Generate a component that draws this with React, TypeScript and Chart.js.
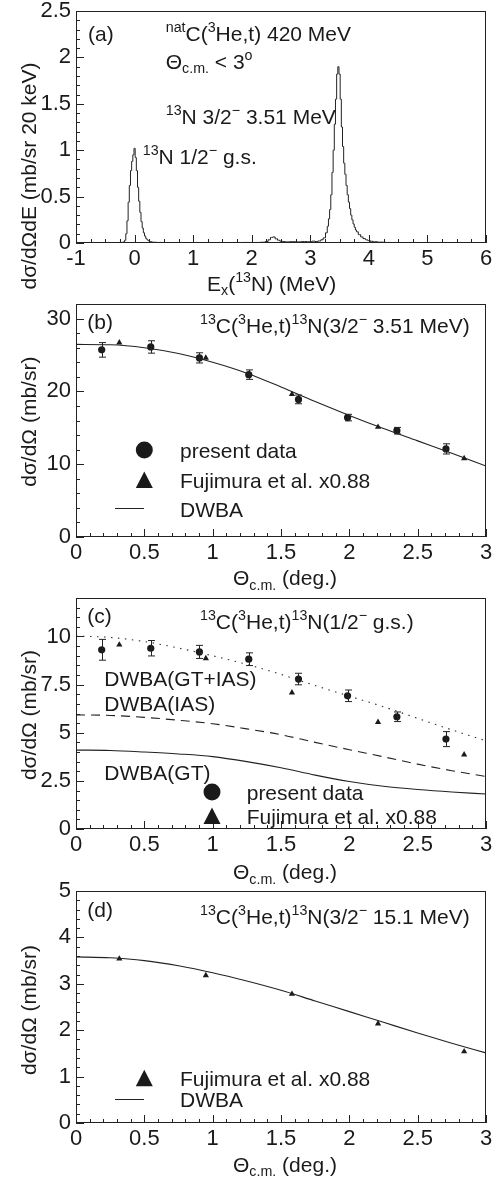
import React, { useEffect, useRef } from "react";
import { Chart, registerables } from "chart.js";
Chart.register(...registerables);

const FONT = "'Liberation Sans', Arial, Helvetica, sans-serif";
const TXT = "#1a1a1a";
const LINE = "#222";

// ---------- Panel (a): spectrum ----------
const specE = [
  -1.0, -0.9, -0.8, -0.7, -0.6, -0.5, -0.45, -0.4, -0.35, -0.3, -0.26, -0.22, -0.2,
  -0.18, -0.16, -0.14, -0.12, -0.1, -0.08, -0.06, -0.04, -0.02, 0.0, 0.02, 0.04, 0.06,
  0.08, 0.1, 0.12, 0.14, 0.16, 0.18, 0.2, 0.22, 0.24, 0.26, 0.28, 0.3, 0.34, 0.4, 0.5,
  0.6, 0.7, 0.8, 0.9, 1.0, 1.1, 1.2, 1.3, 1.4, 1.5, 1.6, 1.7, 1.8, 1.9, 2.0, 2.1, 2.2,
  2.26, 2.3, 2.34, 2.38, 2.42, 2.46, 2.5, 2.55, 2.6, 2.7, 2.8, 2.9, 3.0, 3.06, 3.1, 3.16,
  3.2, 3.24, 3.28, 3.3, 3.32, 3.34, 3.36, 3.38, 3.4, 3.42, 3.44, 3.46, 3.48, 3.5, 3.52,
  3.54, 3.56, 3.58, 3.6, 3.62, 3.64, 3.66, 3.68, 3.7, 3.72, 3.74, 3.76, 3.78, 3.8, 3.84,
  3.88, 3.92, 3.96, 4.0, 4.05, 4.1, 4.2, 4.3, 4.4, 4.6, 4.8, 5.0, 5.2, 5.4, 5.6, 5.8, 6.0,
];
const specY = [
  0, 0, 0.002, 0, 0.003, 0.004, 0.002, 0.005, 0.002, 0.004, 0.006, 0.005, 0.008,
  0.012, 0.03, 0.1, 0.24, 0.44, 0.62, 0.78, 0.88, 0.95, 1.02, 0.92, 0.78, 0.6,
  0.45, 0.33, 0.23, 0.16, 0.11, 0.075, 0.05, 0.035, 0.026, 0.018, 0.014, 0.01, 0.008, 0.006, 0.005,
  0.004, 0.005, 0.004, 0.003, 0.004, 0.005, 0.004, 0.003, 0.004, 0.005, 0.004, 0.005, 0.004, 0.006, 0.005, 0.006, 0.008,
  0.015, 0.035, 0.06, 0.065, 0.045, 0.03, 0.02, 0.015, 0.012, 0.014, 0.012, 0.015, 0.013, 0.02, 0.016, 0.022,
  0.035, 0.055, 0.11, 0.18, 0.26, 0.36, 0.52, 0.76, 1.0, 1.28, 1.55, 1.82, 1.9, 1.82, 1.55,
  1.25, 1.04, 0.86, 0.74, 0.62, 0.52, 0.44, 0.37, 0.3, 0.25, 0.205, 0.17, 0.14, 0.12, 0.09,
  0.065, 0.048, 0.035, 0.026, 0.018, 0.013, 0.009, 0.006, 0.005, 0.004, 0.005, 0.004, 0.004, 0.003, 0.004, 0.003, 0.003,
];
const aXTicks = [-1, 0, 1, 2, 3, 4, 5, 6];
const aYTicks = [0, 0.5, 1, 1.5, 2, 2.5];

// ---------- angular distributions ----------
const angTicks = [0, 0.5, 1, 1.5, 2, 2.5, 3];
const thetaPresent = [0.188, 0.547, 0.903, 1.264, 1.628, 1.987, 2.348, 2.707];
const thetaFujimura = [0.317, 0.95, 1.58, 2.21, 2.84];
const thetaDwba = [0, 0.25, 0.5, 0.75, 1.0, 1.25, 1.5, 1.75, 2.0, 2.25, 2.5, 2.75, 3.0];

// (b) 3/2- 3.51 MeV
const bYTicks = [0, 10, 20, 30];
const bPresent = [25.7, 26.1, 24.6, 22.3, 18.9, 16.4, 14.6, 12.1];
const bPresentErr = [1.0, 0.85, 0.7, 0.65, 0.6, 0.45, 0.45, 0.7];
const bFujimura = [26.7, 24.6, 19.6, 15.1, 10.8];
const bDwba = [26.45, 26.4, 26.0, 25.2, 24.0, 22.5, 20.6, 18.6, 16.7, 14.9, 13.2, 11.5, 9.75];

// (c) 1/2- g.s.
const cYTicks = [0, 2.5, 5, 7.5, 10];
const cPresent = [9.31, 9.39, 9.2, 8.82, 7.79, 6.92, 5.83, 4.67];
const cPresentErr = [0.54, 0.4, 0.34, 0.33, 0.3, 0.3, 0.25, 0.39];
const cFujimura = [9.57, 8.86, 7.08, 5.55, 3.86];
const cDwbaSum = [10.03, 9.95, 9.74, 9.4, 9.0, 8.55, 8.03, 7.45, 6.9, 6.35, 5.75, 5.15, 4.58];
const cDwbaIAS = [5.93, 5.9, 5.8, 5.65, 5.47, 5.2, 4.9, 4.5, 4.12, 3.75, 3.37, 3.03, 2.73];
const cDwbaGT = [4.1, 4.08, 4.0, 3.9, 3.76, 3.5, 3.18, 2.8, 2.47, 2.22, 2.05, 1.92, 1.82];

// (d) 3/2- 15.1 MeV
const dYTicks = [0, 1, 2, 3, 4, 5];
const dFujimura = [3.54, 3.18, 2.78, 2.14, 1.54];
const dDwba = [3.58, 3.56, 3.5, 3.39, 3.24, 3.06, 2.86, 2.63, 2.4, 2.17, 1.94, 1.72, 1.51];

// ---------- helpers ----------
type Seg = { t: string; s?: "sup" | "sub" };
const SUPF = 0.68;

function setFont(ctx: CanvasRenderingContext2D, size: number) {
  ctx.font = `${size}px ${FONT}`;
}
function richWidth(ctx: CanvasRenderingContext2D, segs: Seg[], size: number) {
  let w = 0;
  for (const g of segs) {
    setFont(ctx, g.s ? size * SUPF : size);
    w += ctx.measureText(g.t).width;
  }
  return w;
}
function drawRich(
  ctx: CanvasRenderingContext2D,
  segs: Seg[],
  x: number,
  yc: number,
  size: number,
  align: "left" | "center" = "left"
) {
  const base = yc + size * 0.36;
  let cx = align === "center" ? x - richWidth(ctx, segs, size) / 2 : x;
  ctx.textBaseline = "alphabetic";
  ctx.textAlign = "left";
  ctx.fillStyle = TXT;
  for (const g of segs) {
    const fs = g.s ? size * SUPF : size;
    setFont(ctx, fs);
    const y = g.s === "sup" ? base - size * 0.42 : g.s === "sub" ? base + size * 0.22 : base;
    ctx.fillText(g.t, cx, y);
    cx += ctx.measureText(g.t).width;
  }
}
const pts = (xs: number[], ys: number[]) => xs.map((x, i) => ({ x, y: ys[i] }));

function legCircle(ctx: CanvasRenderingContext2D, x: number, y: number, r: number) {
  ctx.beginPath();
  ctx.arc(x, y, r, 0, Math.PI * 2);
  ctx.fillStyle = TXT;
  ctx.fill();
}
function legTriangle(ctx: CanvasRenderingContext2D, x: number, y: number) {
  ctx.beginPath();
  ctx.moveTo(x, y - 8.5);
  ctx.lineTo(x - 8.5, y + 8);
  ctx.lineTo(x + 8.5, y + 8);
  ctx.closePath();
  ctx.fillStyle = TXT;
  ctx.fill();
}
function legLine(ctx: CanvasRenderingContext2D, x1: number, x2: number, y: number) {
  ctx.beginPath();
  ctx.moveTo(x1, y);
  ctx.lineTo(x2, y);
  ctx.strokeStyle = LINE;
  ctx.lineWidth = 1;
  ctx.stroke();
}

const TH: Seg[] = [{ t: "Θ" }, { t: "c.m.", s: "sub" }, { t: " (deg.)" }];
const YT: Seg[] = [{ t: "dσ/dΩ (mb/sr)" }];

interface PanelCfg {
  canvasTop: number;
  H: number;
  top: number;
  bottom: number;
  xMin: number;
  xMax: number;
  xTicks: number[];
  xMinor: number;
  yMin: number;
  yMax: number;
  yTicks: number[];
  yMinor: number;
  datasets: any[];
  yTitle: Seg[];
  yTitleY: number;
  xTitle: Seg[];
  xTitleX: number;
  xTitleY: number;
  extras: (ctx: CanvasRenderingContext2D) => void;
}

const presentDs = (ys: number[], errs: number[]) => ({
  label: "present data",
  data: pts(thetaPresent, ys),
  errs,
  pointStyle: "circle",
  pointRadius: 3.6,
  backgroundColor: TXT,
  borderColor: TXT,
  borderWidth: 0,
  showLine: false,
});
const fujiDs = (ys: number[]) => ({
  label: "Fujimura et al. x0.88",
  data: pts(thetaFujimura, ys),
  pointStyle: "triangle",
  pointRadius: 3.6,
  backgroundColor: TXT,
  borderColor: TXT,
  borderWidth: 0,
  showLine: false,
});
const curveDs = (ys: number[], dash: number[] = [], color = LINE) => ({
  label: "DWBA",
  data: pts(thetaDwba, ys),
  showLine: true,
  pointRadius: 0,
  borderColor: color,
  borderWidth: 1.1,
  borderDash: dash,
  tension: 0.4,
  cubicInterpolationMode: "monotone",
  fill: false,
});

const panels: PanelCfg[] = [
  {
    canvasTop: 0,
    H: 300,
    top: 11,
    bottom: 243,
    xMin: -1,
    xMax: 6,
    xTicks: aXTicks,
    xMinor: 0.25,
    yMin: 0,
    yMax: 2.5,
    yTicks: aYTicks,
    yMinor: 0.1,
    datasets: [
      {
        label: "spectrum",
        data: pts(specE, specY),
        showLine: true,
        stepped: "middle",
        pointRadius: 0,
        borderColor: LINE,
        borderWidth: 1,
        fill: false,
      },
    ],
    yTitle: [{ t: "dσ/dΩdE (mb/sr 20 keV)" }],
    yTitleY: 176,
    xTitle: [{ t: "E" }, { t: "x", s: "sub" }, { t: "(" }, { t: "13", s: "sup" }, { t: "N) (MeV)" }],
    xTitleX: 207,
    xTitleY: 283,
    extras: (ctx) => {
      drawRich(ctx, [{ t: "(a)" }], 88, 33, 21);
      drawRich(ctx, [{ t: "nat", s: "sup" }, { t: "C(" }, { t: "3", s: "sup" }, { t: "He,t) 420 MeV" }], 165.7, 33, 21);
      drawRich(ctx, [{ t: "Θ" }, { t: "c.m.", s: "sub" }, { t: " < 3" }, { t: "o", s: "sup" }], 165.7, 61, 21);
      drawRich(ctx, [{ t: "13", s: "sup" }, { t: "N 3/2" }, { t: "−", s: "sup" }, { t: " 3.51 MeV" }], 165.7, 116, 21);
      drawRich(ctx, [{ t: "13", s: "sup" }, { t: "N 1/2" }, { t: "−", s: "sup" }, { t: " g.s." }], 142.7, 156, 21);
    },
  },
  {
    canvasTop: 295,
    H: 300,
    top: 9,
    bottom: 242,
    xMin: 0,
    xMax: 3,
    xTicks: angTicks,
    xMinor: 0.1,
    yMin: 0,
    yMax: 32,
    yTicks: bYTicks,
    yMinor: 2,
    datasets: [curveDs(bDwba), fujiDs(bFujimura), presentDs(bPresent, bPresentErr)],
    yTitle: YT,
    yTitleY: 421.7,
    xTitle: TH,
    xTitleX: 233,
    xTitleY: 577.7,
    extras: (ctx) => {
      drawRich(ctx, [{ t: "(b)" }], 87.3, 321.7, 21);
      drawRich(
        ctx,
        [{ t: "13", s: "sup" }, { t: "C(" }, { t: "3", s: "sup" }, { t: "He,t)" }, { t: "13", s: "sup" }, { t: "N(3/2" }, { t: "−", s: "sup" }, { t: " 3.51 MeV)" }],
        200, 325, 21
      );
      legCircle(ctx, 144.3, 450, 8.5);
      drawRich(ctx, [{ t: "present data" }], 180, 450, 21);
      legTriangle(ctx, 144.3, 480);
      drawRich(ctx, [{ t: "Fujimura et al. x0.88" }], 180, 480, 21);
      legLine(ctx, 115, 144, 508.5);
      drawRich(ctx, [{ t: "DWBA" }], 180, 509, 21);
    },
  },
  {
    canvasTop: 585,
    H: 300,
    top: 13,
    bottom: 244,
    xMin: 0,
    xMax: 3,
    xTicks: angTicks,
    xMinor: 0.1,
    yMin: 0,
    yMax: 12,
    yTicks: cYTicks,
    yMinor: 0.5,
    datasets: [
      curveDs(cDwbaSum, [1.5, 5.5], "#333"),
      curveDs(cDwbaIAS, [9, 6]),
      curveDs(cDwbaGT),
      fujiDs(cFujimura),
      presentDs(cPresent, cPresentErr),
    ],
    yTitle: YT,
    yTitleY: 715,
    xTitle: TH,
    xTitleX: 233,
    xTitleY: 871.7,
    extras: (ctx) => {
      drawRich(ctx, [{ t: "(c)" }], 87.3, 615, 21);
      drawRich(
        ctx,
        [{ t: "13", s: "sup" }, { t: "C(" }, { t: "3", s: "sup" }, { t: "He,t)" }, { t: "13", s: "sup" }, { t: "N(1/2" }, { t: "−", s: "sup" }, { t: " g.s.)" }],
        200, 621.7, 21
      );
      drawRich(ctx, [{ t: "DWBA(GT+IAS)" }], 104.3, 678.3, 21);
      drawRich(ctx, [{ t: "DWBA(IAS)" }], 104.3, 703.3, 21);
      drawRich(ctx, [{ t: "DWBA(GT)" }], 104.3, 772.7, 21);
      legCircle(ctx, 212, 792, 8.5);
      drawRich(ctx, [{ t: "present data" }], 246.7, 792, 21);
      legTriangle(ctx, 212, 816);
      drawRich(ctx, [{ t: "Fujimura et al. x0.88" }], 246.7, 816, 21);
    },
  },
  {
    canvasTop: 880,
    H: 297,
    top: 11,
    bottom: 243,
    xMin: 0,
    xMax: 3,
    xTicks: angTicks,
    xMinor: 0.1,
    yMin: 0,
    yMax: 5,
    yTicks: dYTicks,
    yMinor: 0.2,
    datasets: [curveDs(dDwba), fujiDs(dFujimura)],
    yTitle: YT,
    yTitleY: 1010,
    xTitle: TH,
    xTitleX: 233,
    xTitleY: 1164,
    extras: (ctx) => {
      drawRich(ctx, [{ t: "(d)" }], 87.3, 909.3, 21);
      drawRich(
        ctx,
        [{ t: "13", s: "sup" }, { t: "C(" }, { t: "3", s: "sup" }, { t: "He,t)" }, { t: "13", s: "sup" }, { t: "N(3/2" }, { t: "−", s: "sup" }, { t: " 15.1 MeV)" }],
        200, 916.7, 21
      );
      legTriangle(ctx, 144.3, 1078.3);
      drawRich(ctx, [{ t: "Fujimura et al. x0.88" }], 180, 1078.3, 21);
      legLine(ctx, 115, 144, 1099.5);
      drawRich(ctx, [{ t: "DWBA" }], 180, 1099.5, 21);
    },
  },
];

function Panel({ cfg }: { cfg: PanelCfg }) {
  const ref = useRef<HTMLCanvasElement | null>(null);
  useEffect(() => {
    const canvas = ref.current!;
    const near = (a: number, b: number) => Math.abs(a - b) < 1e-6;
    const framePlugin = {
      id: "frame",
      afterDatasetsDraw(chart: any) {
        const ctx: CanvasRenderingContext2D = chart.ctx;
        const xs = chart.scales.x;
        const ys = chart.scales.y;
        // error bars
        ctx.save();
        ctx.strokeStyle = LINE;
        ctx.lineWidth = 1;
        chart.data.datasets.forEach((ds: any) => {
          if (!ds.errs) return;
          ds.data.forEach((p: any, i: number) => {
            const px = Math.round(xs.getPixelForValue(p.x)) + 0.5;
            const y1 = ys.getPixelForValue(p.y - ds.errs[i]);
            const y2 = ys.getPixelForValue(p.y + ds.errs[i]);
            ctx.beginPath();
            ctx.moveTo(px, y1);
            ctx.lineTo(px, y2);
            ctx.moveTo(px - 3.5, y1);
            ctx.lineTo(px + 3.5, y1);
            ctx.moveTo(px - 3.5, y2);
            ctx.lineTo(px + 3.5, y2);
            ctx.stroke();
          });
        });
        ctx.restore();
      },
      afterDraw(chart: any) {
        const ctx: CanvasRenderingContext2D = chart.ctx;
        const { left, right, top, bottom } = chart.chartArea;
        const xs = chart.scales.x;
        const ys = chart.scales.y;
        ctx.save();
        ctx.strokeStyle = LINE;
        ctx.lineWidth = 1;
        ctx.strokeRect(left + 0.5, top + 0.5, right - left - 1, bottom - top - 1);
        ctx.beginPath();
        const nx = Math.round((cfg.xMax - cfg.xMin) / cfg.xMinor);
        for (let i = 0; i <= nx; i++) {
          const v = cfg.xMin + i * cfg.xMinor;
          const major = cfg.xTicks.some((t) => near(t, v));
          const px = Math.round(xs.getPixelForValue(v)) + 0.5;
          ctx.moveTo(px, bottom);
          ctx.lineTo(px, bottom - (major ? 8 : 4));
        }
        const ny = Math.round((cfg.yMax - cfg.yMin) / cfg.yMinor);
        for (let i = 0; i <= ny; i++) {
          const v = cfg.yMin + i * cfg.yMinor;
          const major = cfg.yTicks.some((t) => near(t, v));
          const py = Math.round(ys.getPixelForValue(v)) + 0.5;
          ctx.moveTo(left, py);
          ctx.lineTo(left + (major ? 8 : 4), py);
        }
        ctx.stroke();
        ctx.restore();

        ctx.save();
        ctx.translate(0, -cfg.canvasTop);
        // y title
        ctx.save();
        ctx.translate(28, cfg.yTitleY);
        ctx.rotate(-Math.PI / 2);
        drawRich(ctx, cfg.yTitle, 0, 0, 21, "center");
        ctx.restore();
        drawRich(ctx, cfg.xTitle, cfg.xTitleX, cfg.xTitleY, 21);
        cfg.extras(ctx);
        ctx.restore();
      },
    };

    const tickFont = { size: 22, family: FONT };
    const chart = new Chart(canvas, {
      type: "scatter",
      data: { datasets: cfg.datasets },
      options: {
        animation: false,
        responsive: false,
        maintainAspectRatio: false,
        events: [],
        layout: { padding: { left: 0, right: 12, top: cfg.top, bottom: 0 }, autoPadding: false },
        plugins: { legend: { display: false }, tooltip: { enabled: false }, title: { display: false } },
        scales: {
          x: {
            type: "linear",
            min: cfg.xMin,
            max: cfg.xMax,
            grid: { display: false, drawTicks: false },
            border: { display: false },
            ticks: {
              font: tickFont,
              color: TXT,
              padding: 3,
              maxRotation: 0,
              autoSkip: false,
              callback: (v: any) => String(v),
            },
            afterBuildTicks: (s: any) => {
              s.ticks = cfg.xTicks.map((v) => ({ value: v }));
            },
            afterFit: (s: any) => {
              s.height = cfg.H - cfg.bottom;
              s.paddingLeft = 0;
              s.paddingRight = 0;
            },
          },
          y: {
            type: "linear",
            min: cfg.yMin,
            max: cfg.yMax,
            grid: { display: false, drawTicks: false },
            border: { display: false },
            ticks: {
              font: tickFont,
              color: TXT,
              padding: 5,
              autoSkip: false,
              callback: (v: any) => String(v),
            },
            afterBuildTicks: (s: any) => {
              s.ticks = cfg.yTicks.map((v) => ({ value: v }));
            },
            afterFit: (s: any) => {
              s.width = 76;
              s.paddingTop = 0;
              s.paddingBottom = 0;
            },
          },
        },
      } as any,
      plugins: [framePlugin],
    });
    return () => chart.destroy();
  }, [cfg]);
  return (
    <canvas
      ref={ref}
      width={498}
      height={cfg.H}
      style={{ position: "absolute", left: 0, top: cfg.canvasTop, width: 498, height: cfg.H }}
    />
  );
}

export default function App() {
  return (
    <div style={{ position: "absolute", left: 0, top: 0, width: 498, height: 1177, background: "#fff", overflow: "hidden" }}>
      {panels.map((p, i) => (
        <Panel key={i} cfg={p} />
      ))}
    </div>
  );
}
